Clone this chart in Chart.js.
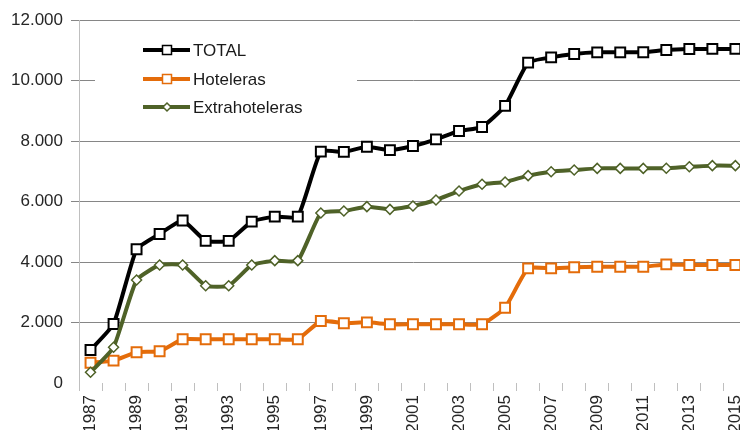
<!DOCTYPE html>
<html>
<head>
<meta charset="utf-8">
<script src="https://cdn.jsdelivr.net/npm/chart.js@4/dist/chart.umd.min.js"></script>
<style>
  body { margin: 0; background: #fff; }
  #wrap { width: 740px; height: 430px; overflow: hidden; position: relative; }
  canvas { display: block; }
</style>
</head>
<body>
<div id="wrap"><canvas id="chart" width="760" height="450"></canvas></div>
<script>
const years = ['1987','1988','1989','1990','1991','1992','1993','1994','1995','1996',
  '1997','1998','1999','2000','2001','2002','2003','2004','2005','2006',
  '2007','2008','2009','2010','2011','2012','2013','2014','2015'];

const total = [1090, 1950, 4420, 4925, 5370, 4700, 4700, 5335, 5500, 5500,
  7650, 7640, 7810, 7700, 7835, 8055, 8330, 8465, 9160, 10590,
  10765, 10875, 10930, 10930, 10935, 11010, 11040, 11045, 11045];

const hoteleras = [670, 740, 1015, 1050, 1445, 1445, 1445, 1445, 1445, 1445,
  2050, 1975, 2005, 1940, 1940, 1940, 1940, 1940, 2490, 3790,
  3790, 3825, 3845, 3845, 3845, 3920, 3900, 3900, 3900];

const extrahoteleras = [355, 1180, 3405, 3900, 3900, 3215, 3215, 3900, 4045, 4045,
  5620, 5685, 5830, 5740, 5850, 6050, 6345, 6570, 6645, 6855,
  6985, 7040, 7095, 7095, 7095, 7100, 7150, 7185, 7185];

const seriesNames = ['TOTAL', 'Hoteleras', 'Extrahoteleras'];
const yTicks = [0, 2000, 4000, 6000, 8000, 10000, 12000];

const colors = ['#000000', '#e46c0a', '#4f6228'];
const fontFamily = '"Liberation Sans", Arial, sans-serif';

function fmt(v) {
  return v === 0 ? '0' : (v / 1000) + '.000';
}

// legend drawn inside the plot, Excel style (line + marker)
const insideLegend = {
  id: 'insideLegend',
  beforeDatasetsDraw(chart) {
    const ctx = chart.ctx;
    ctx.save();
    ctx.fillStyle = '#ffffff';
    ctx.fillRect(95, 30, 262, 100);
    ctx.restore();
  },
  afterDraw(chart) {
    const ctx = chart.ctx;
    const rows = [50, 79, 107];
    ctx.save();
    seriesNames.forEach(function(name, i) {
      const y = rows[i];
      ctx.strokeStyle = colors[i];
      ctx.lineWidth = 4;
      ctx.beginPath();
      ctx.moveTo(143, y);
      ctx.lineTo(190, y);
      ctx.stroke();
      ctx.fillStyle = '#ffffff';
      ctx.lineWidth = 1.5;
      ctx.beginPath();
      if (i < 2) {
        ctx.rect(162.5, y - 4.5, 9, 9);
      } else {
        ctx.moveTo(167, y - 4);
        ctx.lineTo(171, y);
        ctx.lineTo(167, y + 4);
        ctx.lineTo(163, y);
        ctx.closePath();
      }
      ctx.fill();
      ctx.stroke();
      ctx.fillStyle = '#1a1a1a';
      ctx.font = '17px ' + fontFamily;
      ctx.textBaseline = 'middle';
      ctx.fillText(name, 193, y + 1);
    });
    ctx.restore();
  }
};

function makeSet(label, data, i, style, radius, order) {
  return {
    label: label,
    data: data,
    borderColor: colors[i],
    backgroundColor: colors[i],
    borderWidth: 4,
    tension: 0.15,
    pointStyle: style,
    pointRadius: radius,
    pointHoverRadius: radius,
    pointBackgroundColor: '#ffffff',
    pointBorderColor: colors[i],
    pointBorderWidth: style === 'rect' ? 2 : 1.5,
    order: order
  };
}

new Chart(document.getElementById('chart'), {
  type: 'line',
  data: {
    labels: years,
    datasets: [
      makeSet(seriesNames[0], total, 0, 'rect', 7, 2),
      makeSet(seriesNames[1], hoteleras, 1, 'rect', 7, 1),
      makeSet(seriesNames[2], extrahoteleras, 2, 'rectRot', 5, 0)
    ]
  },
  options: {
    responsive: false,
    animation: false,
    layout: { padding: { top: 20, right: 12, bottom: 0, left: 0 } },
    plugins: {
      legend: { display: false },
      tooltip: { enabled: false }
    },
    scales: {
      x: {
        offset: true,
        border: { display: false },
        grid: {
          offset: true,
          drawOnChartArea: false,
          drawTicks: true,
          tickLength: 8,
          color: '#bfbfbf'
        },
        ticks: {
          autoSkip: false,
          minRotation: 90,
          maxRotation: 90,
          padding: 4,
          color: '#262626',
          font: { family: fontFamily, size: 17 },
          callback: function(value, index) {
            return index % 2 === 0 ? years[index] : '';
          }
        },
        afterFit: function(scale) { scale.height = 67; }
      },
      y: {
        min: 0,
        max: 12000,
        border: { display: true, color: '#bfbfbf', width: 1 },
        grid: {
          tickLength: 8,
          color: function(ctx) {
            return ctx.tick && ctx.tick.value === 0 ? 'rgba(0,0,0,0)' : '#868686';
          }
        },
        afterBuildTicks: function(scale) {
          scale.ticks = yTicks.map(v => ({ value: v }));
        },
        ticks: {
          padding: 8,
          color: '#262626',
          font: { family: fontFamily, size: 17 },
          callback: function(value) { return fmt(value); }
        },
        afterFit: function(scale) { scale.width = 79; }
      }
    }
  },
  plugins: [insideLegend]
});
</script>
</body>
</html>
